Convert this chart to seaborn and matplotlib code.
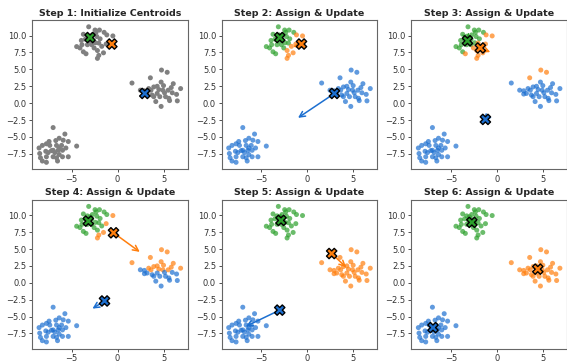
import numpy as np
import pandas as pd
import matplotlib
matplotlib.use("Agg")
import matplotlib.pyplot as plt
import seaborn as sns

# ---- data points ----
top_x = [-3.14, -2.45, -1.97, -1.46, -1.17, -0.51, -3.72, -3.28, -3.94, -3.50, -2.74,
         -2.26, -1.90, -2.41, -2.04, -2.81, -3.28, -4.45, -4.09, -3.72, -3.43, -2.55,
         -2.19, -2.04, -2.19, -1.53, -1.24, -2.81, -3.06, -1.72, -3.87, -2.99, -2.34]
top_y = [11.30, 10.82, 10.82, 10.48, 10.10, 9.95, 10.19, 9.90, 9.28, 9.47, 10.10,
         9.86, 9.52, 8.94, 8.89, 8.65, 8.65, 8.37, 8.17, 7.60, 7.31, 8.17,
         7.79, 7.07, 6.63, 7.45, 8.75, 9.42, 9.18, 8.41, 8.65, 9.76, 10.48]
right_x = [1.57, 2.48, 2.92, 3.39, 3.57, 3.94, 4.31, 4.49, 4.74, 4.78, 5.40, 5.00,
           4.93, 5.11, 4.31, 4.16, 4.74, 3.94, 3.76, 5.58, 5.66, 5.84, 6.06, 6.42,
           6.50, 6.86, 3.21, 2.92, 4.60, 5.22, 5.51, 5.95, 3.64]
right_y = [2.98, 1.92, 1.83, 2.16, 3.75, 2.40, 2.50, 2.02, 3.12, 4.90, 4.57, 2.60,
           1.92, 1.54, 1.44, 0.24, -0.48, 0.96, 1.20, 0.72, 0.38, 2.31, 2.88, 1.30,
           0.34, 2.16, 1.44, 1.35, 0.96, 0.96, 1.92, 1.54, 1.92]
low_x = [-7.01, -5.73, -6.35, -6.72, -5.36, -4.45, -7.74, -7.37, -8.18, -8.54, -7.81,
         -7.19, -6.64, -6.35, -6.09, -5.99, -5.62, -6.46, -6.82, -7.55, -6.35, -5.99,
         -5.36, -6.64, -7.01, -7.74, -8.39, -8.18, -7.74, -6.53, -8.47, -5.91, -7.01, -7.45]
low_y = [-3.61, -4.57, -5.19, -5.53, -5.67, -6.35, -6.01, -6.25, -6.25, -6.63, -7.12,
         -7.02, -6.25, -6.63, -6.25, -6.97, -6.63, -6.97, -7.31, -7.31, -7.60, -7.93,
         -7.93, -8.08, -7.93, -7.93, -8.08, -8.56, -8.75, -8.56, -7.45, -5.48, -6.97, -5.67]

# ---- centroid positions at each step (cluster 0 blue, 1 orange, 2 green) ----
cent_x = [[2.96, -0.62, -2.99],
          [2.96, -0.62, -2.99],
          [-1.25, -1.80, -3.20],
          [-1.42, -0.44, -3.18],
          [-2.99, 2.66, -2.85],
          [-6.95, 4.45, -2.72]]
cent_y = [[1.44, 8.75, 9.71],
          [1.44, 8.75, 9.71],
          [-2.40, 8.17, 9.23],
          [-2.69, 7.40, 9.13],
          [-4.04, 4.33, 9.23],
          [-6.63, 2.02, 8.94]]
titles = ["Step 1: Initialize Centroids", "Step 2: Assign & Update",
          "Step 3: Assign & Update", "Step 4: Assign & Update",
          "Step 5: Assign & Update", "Step 6: Assign & Update"]
colors = ["#1c6fd0", "#ff7f0e", "#2ca02c"]

X = np.array(top_x + right_x + low_x)
Y = np.array(top_y + right_y + low_y)

sns.set_style("ticks")
plt.rcParams['font.family'] = ['DejaVu Sans']

fig, axes = plt.subplots(2, 3, figsize=(5.67, 3.64), dpi=100)
fig.subplots_adjust(left=0.0564, right=1.0, top=0.945, bottom=0.042,
                    wspace=0.218, hspace=0.205)

for i, ax in enumerate(axes.flat):
    cx = np.array(cent_x[i]); cy = np.array(cent_y[i])
    if i == 0:
        df = pd.DataFrame({"x": X, "y": Y})
        sns.scatterplot(data=df, x="x", y="y", color="gray", s=13, alpha=1.0,
                        edgecolor="none", ax=ax)
    else:
        d = (X[:, None] - cx[None, :]) ** 2 + (Y[:, None] - cy[None, :]) ** 2
        lab = d.argmin(axis=1)
        df = pd.DataFrame({"x": X, "y": Y, "k": lab})
        sns.scatterplot(data=df, x="x", y="y", hue="k", palette=colors,
                        hue_order=[0, 1, 2], s=13, alpha=0.7, edgecolor="none",
                        legend=False, ax=ax)
        if i < 5:
            nx = cent_x[i + 1]; ny = cent_y[i + 1]
            for k in range(3):
                ax.annotate("", xy=(nx[k], ny[k]), xytext=(cx[k], cy[k]),
                            arrowprops=dict(arrowstyle="->", color=colors[k], lw=1.1),
                            zorder=3)
    cdf = pd.DataFrame({"x": cx, "y": cy, "k": [0, 1, 2]})
    sns.scatterplot(data=cdf, x="x", y="y", hue="k", palette=colors, hue_order=[0, 1, 2],
                    marker="X", s=55, edgecolor="black", linewidth=1.0,
                    legend=False, ax=ax, zorder=5)
    ax.set_title(titles[i], fontsize=6.8, fontweight="bold", pad=3)
    ax.set_xlabel(""); ax.set_ylabel("")
    ax.set_xticks([-5, 0, 5])
    ax.set_yticks([-7.5, -5.0, -2.5, 0.0, 2.5, 5.0, 7.5, 10.0])
    ax.tick_params(labelsize=6, length=2.5, width=0.6, pad=1.5, colors="#333333")
    for s in ax.spines.values():
        s.set_linewidth(0.8)
        s.set_color("#666666")

fig.savefig("out.png", dpi=100)
